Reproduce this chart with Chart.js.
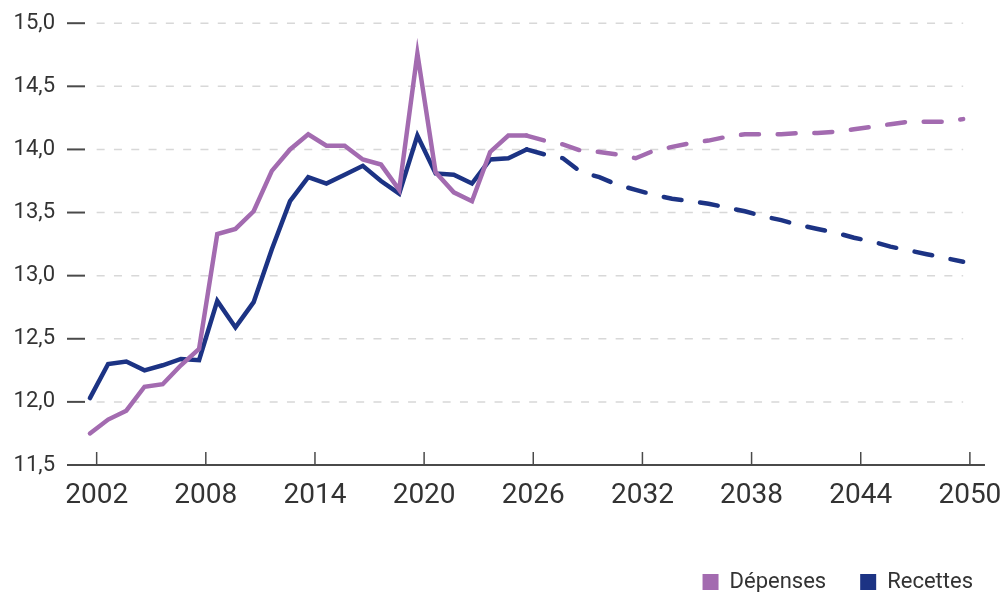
<!DOCTYPE html>
<html>
<head>
<meta charset="utf-8">
<script src="https://cdn.jsdelivr.net/npm/chart.js@4"></script>
<style>
  html, body { margin: 0; padding: 0; background: #fff; }
  #wrap { width: 1007px; height: 592px; }
</style>
</head>
<body>
<div id="wrap"><canvas id="chart"></canvas></div>
<script>
const years = [2002, 2003, 2004, 2005, 2006, 2007, 2008, 2009, 2010, 2011, 2012, 2013, 2014,
  2015, 2016, 2017, 2018, 2019, 2020, 2021, 2022, 2023, 2024, 2025, 2026, 2027, 2028, 2029,
  2030, 2031, 2032, 2033, 2034, 2035, 2036, 2037, 2038, 2039, 2040, 2041, 2042, 2043, 2044,
  2045, 2046, 2047, 2048, 2049, 2050];
const depenses = [11.75, 11.86, 11.93, 12.12, 12.14, 12.29, 12.42, 13.33, 13.37, 13.51, 13.83, 14.00, 14.12,
  14.03, 14.03, 13.92, 13.88, 13.68, 14.76, 13.82, 13.66, 13.59, 13.98, 14.11, 14.11, 14.07, 14.04, 13.99,
  13.98, 13.96, 13.93, 13.99, 14.02, 14.05, 14.07, 14.10, 14.12, 14.12, 14.12, 14.13, 14.13, 14.14, 14.16,
  14.18, 14.20, 14.22, 14.22, 14.22, 14.24];
const recettes = [12.03, 12.30, 12.32, 12.25, 12.29, 12.34, 12.33, 12.80, 12.59, 12.79, 13.21, 13.59, 13.78,
  13.73, 13.80, 13.87, 13.75, 13.65, 14.11, 13.81, 13.80, 13.73, 13.92, 13.93, 14.00, 13.96, 13.93, 13.82,
  13.78, 13.72, 13.68, 13.64, 13.61, 13.59, 13.57, 13.54, 13.51, 13.47, 13.44, 13.40, 13.37, 13.34, 13.30,
  13.27, 13.23, 13.20, 13.17, 13.14, 13.11];
const xTickYears = [2002, 2008, 2014, 2020, 2026, 2032, 2038, 2044, 2050];
const yTicks = [11.5, 12.0, 12.5, 13.0, 13.5, 14.0, 14.5, 15.0];
const lastActual = 2026; // projection (dashed) after this year

const tickShift = 0.37; // labels sit a bit right of the yearly points in the original
const axisEnd = 2051.2;  // where the bottom axis line stops
const dash = [18, 18.7];
const textColor = '#333333';

const toPoints = vals => years.map((y, i) => ({ x: y, y: vals[i] }));

// dashed grid, short y tick marks, x axis line and upward x tick marks
const axisDecor = {
  id: 'axisDecor',
  beforeDatasetsDraw(chart) {
    const { ctx, chartArea, scales: { x, y } } = chart;
    const gx0 = x.getPixelForValue(xTickYears[0] + tickShift);
    const gx1 = x.getPixelForValue(years[years.length - 1]);
    ctx.save();
    ctx.strokeStyle = '#d8d8d8';
    ctx.lineWidth = 1.5;
    ctx.setLineDash([8, 9.3]);
    y.ticks.forEach(t => {
      if (t.value === y.min) return;
      const py = y.getPixelForValue(t.value);
      ctx.beginPath(); ctx.moveTo(gx0, py); ctx.lineTo(gx1, py); ctx.stroke();
    });
    ctx.setLineDash([]);
    ctx.strokeStyle = '#4a4a4a';
    ctx.lineWidth = 2;
    y.ticks.forEach(t => {
      const py = y.getPixelForValue(t.value);
      ctx.beginPath(); ctx.moveTo(chartArea.left + 2, py); ctx.lineTo(chartArea.left + 20, py); ctx.stroke();
    });
    ctx.beginPath();
    ctx.moveTo(chartArea.left + 2, chartArea.bottom);
    ctx.lineTo(x.getPixelForValue(axisEnd), chartArea.bottom);
    ctx.stroke();
    ctx.lineWidth = 1.5;
    x.ticks.forEach(t => {
      const px = x.getPixelForValue(t.value);
      ctx.beginPath(); ctx.moveTo(px, chartArea.bottom); ctx.lineTo(px, chartArea.bottom - 13); ctx.stroke();
    });
    ctx.restore();
  }
};

const projected = c => c.p0.parsed.x >= lastActual ? dash : undefined;

new Chart(document.getElementById('chart'), {
  type: 'line',
  data: {
    datasets: [{
      label: 'Dépenses',
      data: toPoints(depenses),
      borderColor: '#a36bb0',
      backgroundColor: '#a36bb0',
      borderWidth: 4.5,
      borderCapStyle: 'round',
      pointRadius: 0,
      segment: { borderDash: projected }
    }, {
      label: 'Recettes',
      data: toPoints(recettes),
      borderColor: '#1c3384',
      backgroundColor: '#1c3384',
      borderWidth: 4.5,
      borderCapStyle: 'round',
      pointRadius: 0,
      segment: { borderDash: projected }
    }]
  },
  options: {
    responsive: true,
    maintainAspectRatio: false,
    animation: false,
    layout: { padding: { top: 22, right: 0, bottom: -11, left: 0 } },
    scales: {
      x: {
        type: 'linear',
        min: 2000.63,
        max: 2052.41,
        grid: { display: false, drawTicks: false },
        border: { display: false },
        afterBuildTicks: s => { s.ticks = xTickYears.map(v => ({ value: v + tickShift })); },
        afterFit: s => { s.height = 138 - (s.chart.legend ? s.chart.legend.height : 66); },
        ticks: {
          autoSkip: false,
          maxRotation: 0,
          padding: 0,
          color: textColor,
          font: { family: 'Roboto', size: 28, lineHeight: 2.2 },
          callback: v => String(Math.round(v - tickShift))
        }
      },
      y: {
        min: 11.5,
        max: 15,
        grid: { display: false, drawTicks: false },
        border: { display: false },
        afterBuildTicks: s => { s.ticks = yTicks.map(v => ({ value: v })); },
        afterFit: s => { s.width = 65; },
        ticks: {
          padding: 10,
          color: textColor,
          font: { family: 'Roboto', size: 22 },
          callback: v => v.toFixed(1).replace('.', ',')
        }
      }
    },
    plugins: {
      legend: {
        position: 'bottom',
        align: 'end',
        labels: {
          boxWidth: 16,
          boxHeight: 16,
          padding: 34,
          color: textColor,
          font: { family: 'Roboto', size: 22 },
          generateLabels: chart => Chart.defaults.plugins.legend.labels.generateLabels(chart)
            .map(l => Object.assign(l, { lineWidth: 0, strokeStyle: 'rgba(0,0,0,0)', lineDash: [] }))
        }
      },
      tooltip: { enabled: false }
    }
  },
  plugins: [axisDecor]
});
</script>
</body>
</html>
